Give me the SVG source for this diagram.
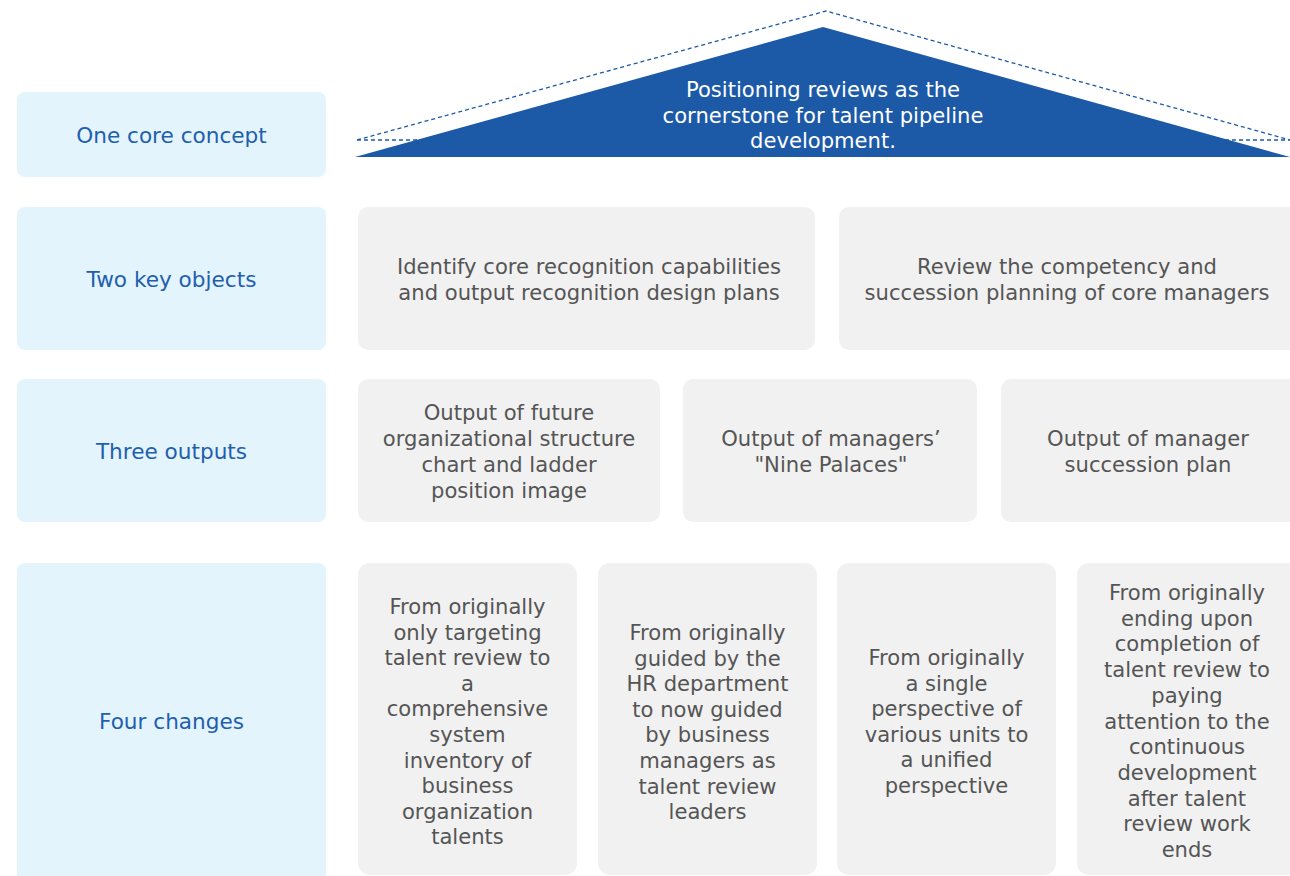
<svg xmlns="http://www.w3.org/2000/svg" width="1290" height="876" viewBox="0 0 1290 876">
  <style>
    .lbl { fill: #e3f4fd; }
    .box { fill: #f1f1f1; }
    .lt { font-family: "DejaVu Sans", "Noto Sans", sans-serif; font-size: 21.6px; fill: #1f5fad; text-anchor: middle; dominant-baseline: central; }
    .bt { font-family: "DejaVu Sans", "Noto Sans", sans-serif; font-size: 21.1px; fill: #555555; text-anchor: middle; dominant-baseline: central; }
    .rt { font-family: "DejaVu Sans", "Noto Sans", sans-serif; font-size: 21.1px; fill: #ffffff; text-anchor: middle; dominant-baseline: central; }
  </style>
  <rect width="1290" height="876" fill="#ffffff"/>

  <!-- roof: core concept -->
  <g id="roof">
    <polygon points="357,140 826,11 1290,140" fill="none" stroke="#1c5aa8" stroke-width="1.3" stroke-dasharray="4,3"/>
    <polygon points="355,157 823,27 1290,157" fill="#1c5aa8"/>
    <text class="rt" x="823" y="89.5">Positioning reviews as the</text>
    <text class="rt" x="823" y="115">cornerstone for talent pipeline</text>
    <text class="rt" x="823" y="140.5">development.</text>
  </g>

  <!-- row labels -->
  <g id="label-concept"><rect class="lbl" x="17" y="92" width="309" height="85" rx="8"/><text class="lt" x="171.5" y="135">One core concept</text></g>
  <g id="label-objects"><rect class="lbl" x="17" y="207" width="309" height="143" rx="8"/><text class="lt" x="171.5" y="279.5">Two key objects</text></g>
  <g id="label-outputs"><rect class="lbl" x="17" y="379" width="309" height="143" rx="8"/><text class="lt" x="171.5" y="451.5">Three outputs</text></g>
  <g id="label-changes"><rect class="lbl" x="17" y="563" width="309" height="325" rx="8"/><text class="lt" x="171.5" y="721.5">Four changes</text></g>

  <!-- two key objects -->
  <g id="obj-1"><rect class="box" x="358" y="207" width="457" height="143" rx="10"/>
    <text class="bt" x="589" y="266.5">Identify core recognition capabilities</text>
    <text class="bt" x="589" y="292.5">and output recognition design plans</text></g>
  <g id="obj-2"><rect class="box" x="839" y="207" width="460" height="143" rx="10"/>
    <text class="bt" x="1067" y="266.5">Review the competency and</text>
    <text class="bt" x="1067" y="292.5">succession planning of core managers</text></g>

  <!-- three outputs -->
  <g id="out-1"><rect class="box" x="358" y="379" width="302" height="143" rx="10"/>
    <text class="bt" x="509" y="412.5">Output of future</text>
    <text class="bt" x="509" y="438.5">organizational structure</text>
    <text class="bt" x="509" y="464.5">chart and ladder</text>
    <text class="bt" x="509" y="490.5">position image</text></g>
  <g id="out-2"><rect class="box" x="683" y="379" width="294" height="143" rx="10"/>
    <text class="bt" x="831" y="438.5">Output of managers’</text>
    <text class="bt" x="831" y="464.5">"Nine Palaces"</text></g>
  <g id="out-3"><rect class="box" x="1001" y="379" width="298" height="143" rx="10"/>
    <text class="bt" x="1148" y="438.5">Output of manager</text>
    <text class="bt" x="1148" y="464.5">succession plan</text></g>

  <!-- four changes -->
  <g id="chg-1"><rect class="box" x="358" y="563" width="219" height="312" rx="12"/>
    <text class="bt" x="467.5" y="606.5">From originally</text>
    <text class="bt" x="467.5" y="632.1">only targeting</text>
    <text class="bt" x="467.5" y="657.7">talent review to</text>
    <text class="bt" x="467.5" y="683.3">a</text>
    <text class="bt" x="467.5" y="708.9">comprehensive</text>
    <text class="bt" x="467.5" y="734.5">system</text>
    <text class="bt" x="467.5" y="760.1">inventory of</text>
    <text class="bt" x="467.5" y="785.7">business</text>
    <text class="bt" x="467.5" y="811.3">organization</text>
    <text class="bt" x="467.5" y="836.9">talents</text></g>
  <g id="chg-2"><rect class="box" x="598" y="563" width="219" height="312" rx="12"/>
    <text class="bt" x="707.5" y="632.5">From originally</text>
    <text class="bt" x="707.5" y="658.1">guided by the</text>
    <text class="bt" x="707.5" y="683.7">HR department</text>
    <text class="bt" x="707.5" y="709.3">to now guided</text>
    <text class="bt" x="707.5" y="734.9">by business</text>
    <text class="bt" x="707.5" y="760.5">managers as</text>
    <text class="bt" x="707.5" y="786.1">talent review</text>
    <text class="bt" x="707.5" y="811.7">leaders</text></g>
  <g id="chg-3"><rect class="box" x="837" y="563" width="219" height="312" rx="12"/>
    <text class="bt" x="946.5" y="657.5">From originally</text>
    <text class="bt" x="946.5" y="683.1">a single</text>
    <text class="bt" x="946.5" y="708.7">perspective of</text>
    <text class="bt" x="946.5" y="734.3">various units to</text>
    <text class="bt" x="946.5" y="759.9">a unified</text>
    <text class="bt" x="946.5" y="785.5">perspective</text></g>
  <g id="chg-4"><rect class="box" x="1077" y="563" width="222" height="312" rx="12"/>
    <text class="bt" x="1187" y="592.5">From originally</text>
    <text class="bt" x="1187" y="618.2">ending upon</text>
    <text class="bt" x="1187" y="643.9">completion of</text>
    <text class="bt" x="1187" y="669.6">talent review to</text>
    <text class="bt" x="1187" y="695.3">paying</text>
    <text class="bt" x="1187" y="721">attention to the</text>
    <text class="bt" x="1187" y="746.7">continuous</text>
    <text class="bt" x="1187" y="772.4">development</text>
    <text class="bt" x="1187" y="798.1">after talent</text>
    <text class="bt" x="1187" y="823.8">review work</text>
    <text class="bt" x="1187" y="849.5">ends</text></g>

  <g id="connectors"/>
</svg>
